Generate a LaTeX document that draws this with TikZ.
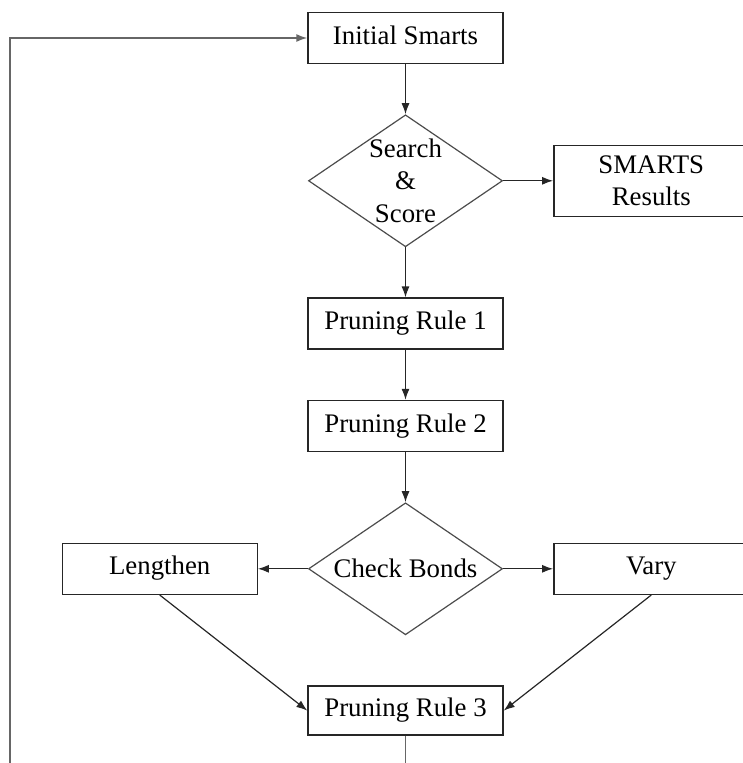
\documentclass[tikz,border=0pt]{standalone}
\usepackage{fontspec}
\setmainfont{Liberation Serif}
\usetikzlibrary{positioning,shapes.geometric,arrows.meta}

\begin{document}
\begin{tikzpicture}[%
        x=1pt, y=1pt,
        every node/.style={font=\fontsize{26.8}{32.5}\selectfont, inner sep=0pt},
        box/.style={rectangle, draw=black!85, line width=1.4pt, minimum width=195pt, minimum height=51pt},
        stepbox/.style={box, text height=18pt, text depth=6pt},
        decide/.style={diamond, draw=black!70, line width=1.2pt, minimum width=194pt, minimum height=132pt,
                       shape aspect=1.47, inner sep=-6pt, align=center},
        flow/.style={->, draw=black!85, line width=1.2pt},
        node distance=50pt, >={Latex[length=11pt,width=8pt]}
      ]
      \useasboundingbox (0,0) rectangle (743,-763);
      \node [] (init) [stepbox] at (405.5,-38) {Initial Smarts};
      \node [] (search) [decide, below=of init] {Search\\\&\\Score};
      \node [] (results) [box, minimum height=71pt, align=center, right=of search] {SMARTS\\Results};
      \node [] (p1) [stepbox, below=of search] {Pruning Rule 1};
      \node [] (p2) [stepbox, below=of p1] {Pruning Rule 2};
      \node [] (check) [decide, below=of p2] {Check Bonds};
      \node [] (lengthen) [stepbox, left=of check] {Lengthen};
      \node [] (vary) [stepbox, right=of check] {Vary};
      \node [] (p3) [stepbox, minimum height=49pt, below=of check] {Pruning Rule 3};
      % loop back, runs past the bottom edge
      \coordinate (loopR) at (p3.south |- 0,-780);
      \coordinate (loopL) at (10,-780);
      \path (init) edge[flow] (search)
      (search) edge[flow] (results)
      (search) edge[flow] (p1)
      (p1) edge[flow] (p2)
      (p2) edge[flow] (check)
      (check) edge[flow] (lengthen)
      (check) edge[flow] (vary)
      (lengthen.south) edge[flow] (p3.west)
      (vary.south) edge[flow] (p3.east);
      \draw [flow, draw=black!60, line width=1.6pt] (p3.south) -- (loopR) -- (loopL) |- (init.west);
    \end{tikzpicture}
\end{document}
